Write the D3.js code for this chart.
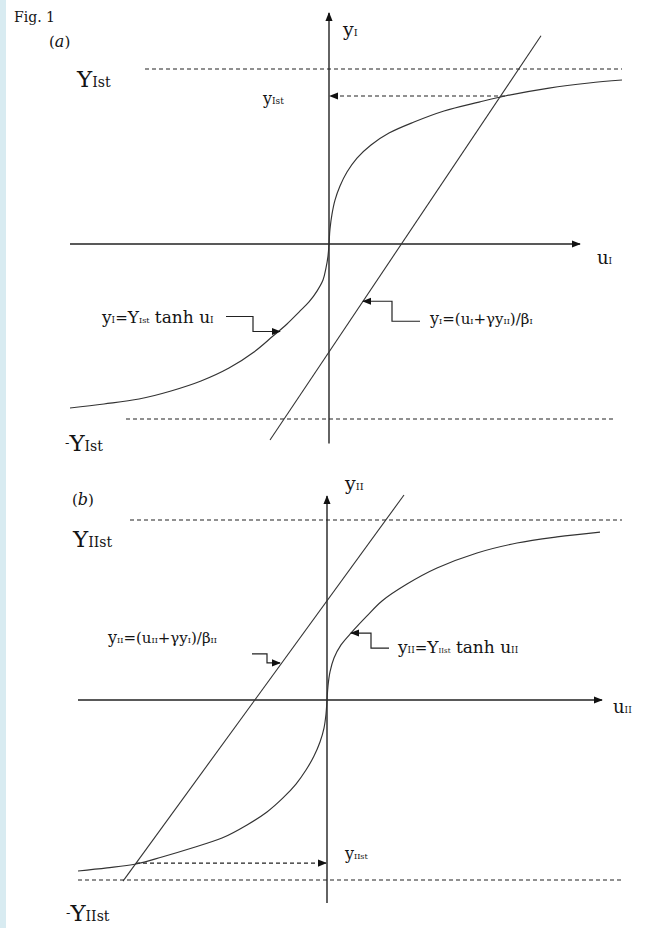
<!DOCTYPE html>
<html><head><meta charset="utf-8">
<script src="https://cdn.jsdelivr.net/npm/d3@7"></script>
<style>
html,body{margin:0;padding:0;background:#fff;}
svg{display:block;}
text{font-family:"DejaVu Serif","Liberation Serif",serif;fill:#141414;}
</style></head><body>
<svg id="fig" width="655" height="928"></svg>
<script>
// ---- Panel (a): y_I = Y_Ist tanh u_I (sampled, y in units of Y_Ist) ----
const curveA_u = [-2.59,-2.25,-1.90,-1.58,-1.28,-1.00,-0.75,-0.56,-0.42,-0.30,-0.20,-0.12,-0.06,-0.03,-0.01,0,
                  0.01,0.03,0.06,0.11,0.18,0.28,0.42,0.60,0.85,1.15,1.50,1.76,2.20,2.60,2.93];
const curveA_y = [-0.937,-0.914,-0.886,-0.84,-0.783,-0.709,-0.617,-0.526,-0.457,-0.389,-0.331,-0.269,-0.206,-0.137,-0.069,0,
                  0.086,0.171,0.251,0.331,0.411,0.491,0.566,0.634,0.697,0.76,0.811,0.846,0.891,0.92,0.937];
// straight line y_I = (u_I + γ y_II)/β_I, end points
const lineA_u = [-0.59, 2.12];
const lineA_y = [-1.12, 1.19];
// saturation levels ±Y_Ist and their u-extents
const levelsA = [1, -1];
const levelsA_from = [-1.84, -2.03];
const levelsA_to = [2.93, 2.86];
// steady state y_Ist (intersection of curve and line)
const steadyA_u = 1.76, steadyA_y = 0.846;
const axisA_u = [-2.59, 2.51], axisA_y = [-1.14, 1.32];

// ---- Panel (b): y_II = Y_IIst tanh u_II ----
const curveB_u = [-2.49,-2.20,-1.91,-1.65,-1.35,-1.05,-0.80,-0.60,-0.44,-0.31,-0.21,-0.13,-0.07,-0.03,-0.01,0,
                  0.01,0.03,0.07,0.14,0.25,0.40,0.55,0.80,1.10,1.50,1.90,2.30,2.73];
const curveB_y = [-0.95,-0.933,-0.911,-0.872,-0.822,-0.767,-0.694,-0.622,-0.544,-0.467,-0.389,-0.311,-0.233,-0.156,-0.078,0,
                  0.078,0.156,0.233,0.306,0.378,0.467,0.55,0.644,0.733,0.817,0.872,0.906,0.933];
const lineB_u = [-2.04, 0.77];
const lineB_y = [-1.006, 1.139];
const levelsB = [1, -1];
const levelsB_from = [-1.97, -2.49];
const levelsB_to = [2.95, 2.95];
const steadyB_u = -1.91, steadyB_y = -0.906;
const axisB_u = [-2.49, 2.75], axisB_y = [-1.128, 1.133];

const svg = d3.select("#fig");

// pale strip along the left edge
svg.append("rect").attr("x",0).attr("y",0).attr("width",6).attr("height",928).attr("fill","#d8ebf1");

const defs = svg.append("defs");
defs.append("marker").attr("id","ah").attr("viewBox","0 -5 10 10")
  .attr("refX",9).attr("refY",0).attr("markerWidth",9).attr("markerHeight",9)
  .attr("markerUnits","userSpaceOnUse").attr("orient","auto")
  .append("path").attr("d","M0,-4L10,0L0,4Z").attr("fill","#111");

const xA = d3.scaleLinear().domain([-2.59, 2.93]).range([70, 622]);
const yA = d3.scaleLinear().domain([-1, 1]).range([419, 69]);
const xB = d3.scaleLinear().domain([-2.49, 2.95]).range([78, 622]);
const yB = d3.scaleLinear().domain([-1, 1]).range([880, 520]);

// text built from [string, size, style, dy] pieces
function rich(g, x, y, parts) {
  const t = g.append("text").attr("x", x).attr("y", y);
  parts.forEach(p => {
    const s = t.append("tspan").attr("font-size", p[1]).text(p[0]);
    if (p[2]) s.attr("font-style", p[2]);
    if (p[3]) s.attr("dy", p[3]);
  });
  return t;
}

function panel(x, y, cu, cy, lu, ly, levels, lf, lt, su, sy, au, ay, arrowRight) {
  const g = svg.append("g");
  // axes
  g.append("line").attr("x1", x(au[0])).attr("x2", x(au[1])).attr("y1", y(0)).attr("y2", y(0))
    .attr("stroke","#222").attr("stroke-width",1.4).attr("marker-end","url(#ah)");
  g.append("line").attr("x1", x(0)).attr("x2", x(0)).attr("y1", y(ay[0])).attr("y2", y(ay[1]))
    .attr("stroke","#222").attr("stroke-width",1.4).attr("marker-end","url(#ah)");
  // saturation levels
  levels.forEach((v, i) => {
    g.append("line").attr("x1", x(lf[i])).attr("x2", x(lt[i])).attr("y1", y(v)).attr("y2", y(v))
      .attr("stroke","#222").attr("stroke-width",1.1).attr("stroke-dasharray","4,3");
  });
  // steady-state projection onto the vertical axis
  g.append("line").attr("x1", x(su)).attr("x2", x(0) + (arrowRight ? -1 : 1))
    .attr("y1", y(sy)).attr("y2", y(sy))
    .attr("stroke","#222").attr("stroke-width",1.1).attr("stroke-dasharray","4,3")
    .attr("marker-end","url(#ah)");
  // tanh curve
  const pts = cu.map((u, i) => [u, cy[i]]);
  g.append("path").datum(pts)
    .attr("d", d3.line().x(d => x(d[0])).y(d => y(d[1])).curve(d3.curveCatmullRom.alpha(0.5)))
    .attr("fill","none").attr("stroke","#333").attr("stroke-width",1.15);
  // straight line
  g.append("line").attr("x1", x(lu[0])).attr("x2", x(lu[1])).attr("y1", y(ly[0])).attr("y2", y(ly[1]))
    .attr("stroke","#333").attr("stroke-width",1.1);
  return g;
}

function leader(g, tx, ty, offs) {
  const pts = offs.map(o => [tx + o[0], ty + o[1]]);
  g.append("path").attr("d", d3.line()(pts)).attr("fill","none")
    .attr("stroke","#222").attr("stroke-width",1.2).attr("marker-end","url(#ah)");
}

const gA = panel(xA, yA, curveA_u, curveA_y, lineA_u, lineA_y, levelsA, levelsA_from, levelsA_to,
                 steadyA_u, steadyA_y, axisA_u, axisA_y, false);
const gB = panel(xB, yB, curveB_u, curveB_y, lineB_u, lineB_y, levelsB, levelsB_from, levelsB_to,
                 steadyB_u, steadyB_y, axisB_u, axisB_y, true);

// leaders pointing at the curves
leader(gA, xA(-0.49), yA(-0.50), [[-54,-15],[-27,-15],[-27,0],[0,0]]);
leader(gA, xA(0.34), yA(-0.327), [[57,20],[29,20],[29,0],[0,0]]);
leader(gB, xB(-0.47), yB(0.206), [[-28,-9],[-13,-9],[-13,0],[0,0]]);
leader(gB, xB(0.24), yB(0.372), [[38,15],[20,15],[20,0],[0,0]]);

// ---- labels ----
rich(svg, 14, 22, [["Fig. 1", 14]]);
rich(svg, 49, 47, [["(", 15], ["a", 16, "italic"], [")", 15]]);
rich(svg, 77, 87, [["Y", 23], ["Ist", 14]]);
rich(svg, 343, 36, [["y", 19], ["I", 10]]);
rich(svg, 263, 104, [["y", 16], ["Ist", 9]]);
rich(svg, 597, 264, [["u", 18], ["I", 9]]);
rich(svg, 102, 323, [["y", 17], ["I", 9], ["=", 15], ["Y", 17], ["Ist", 8], [" tanh u", 17], ["I", 9]]);
rich(svg, 430, 324, [["y", 16], ["I", 8], ["=(u", 15], ["I", 8], ["+γy", 15], ["II", 8], [")/β", 15], ["I", 8]]);
rich(svg, 65, 451, [["-", 13, null, -4], ["Y", 23, null, 4], ["Ist", 14]]);

rich(svg, 72, 505, [["(", 15], ["b", 16, "italic"], [")", 15]]);
rich(svg, 73, 547, [["Y", 23], ["IIst", 14]]);
rich(svg, 345, 490, [["y", 19], ["II", 10]]);
rich(svg, 613, 713, [["u", 18], ["II", 9]]);
rich(svg, 108, 643, [["y", 16], ["II", 8], ["=(u", 15], ["II", 8], ["+γy", 15], ["I", 8], [")/β", 15], ["II", 8]]);
rich(svg, 398, 653, [["y", 17], ["II", 9], ["=", 15], ["Y", 17], ["IIst", 7], [" tanh u", 17], ["II", 9]]);
rich(svg, 345, 859, [["y", 16], ["IIst", 8]]);
rich(svg, 66, 921, [["-", 13, null, -4], ["Y", 23, null, 4], ["IIst", 14]]);
</script>
</body></html>
